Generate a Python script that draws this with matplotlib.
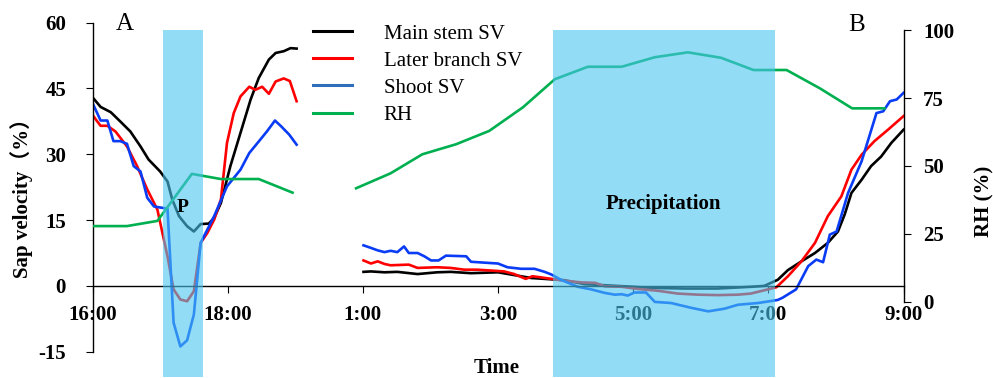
import matplotlib
matplotlib.use("Agg")
import matplotlib.pyplot as plt
import numpy as np
from matplotlib.lines import Line2D
from matplotlib.patches import Rectangle

plt.rcParams['font.family'] = ['Liberation Serif', 'Noto Sans CJK SC']
plt.rcParams['axes.unicode_minus'] = False

# x = hours on the plotted axis (0 = 16:00, 4 = 1:00, 12 = 9:00)
tick_pos = [0, 2, 4, 6, 8, 10, 12]
tick_labels = ["16:00", "18:00", "1:00", "3:00", "5:00", "7:00", "9:00"]

# ---- afternoon segment ----
main_x1 = [0, 0.12, 0.27, 0.41, 0.56, 0.71, 0.83, 1.0, 1.11, 1.18, 1.28, 1.40, 1.50,
           1.60, 1.72, 1.80, 1.90, 2.04, 2.19, 2.34, 2.46, 2.61, 2.71, 2.83, 2.93, 3.02]
main_y1 = [43.0, 40.8, 39.6, 37.5, 35.2, 31.8, 28.8, 26.1, 23.8, 19.7, 15.9, 13.6, 12.4,
           14.1, 14.2, 15.5, 18.9, 27.3, 34.9, 42.5, 47.4, 51.6, 53.1, 53.5, 54.2, 54.1]

branch_x1 = [0, 0.07, 0.12, 0.22, 0.34, 0.51, 0.66, 0.81, 0.96, 1.11, 1.20, 1.30, 1.40, 1.50,
             1.60, 1.70, 1.80, 1.90, 1.99, 2.09, 2.19, 2.32, 2.41, 2.51, 2.61, 2.71, 2.83,
             2.92, 3.02]
branch_y1 = [39.0, 37.5, 36.5, 36.5, 35.2, 31.8, 27.3, 22.0, 17.4, 6.7, -0.8, -3.1, -3.5, -1.2,
             9.8, 12.1, 15.1, 19.7, 32.6, 39.4, 43.2, 45.4, 44.7, 45.4, 43.8, 46.6, 47.3,
             46.7, 42.1]

shoot_x1 = [0, 0.12, 0.22, 0.31, 0.41, 0.51, 0.61, 0.71, 0.81, 0.91, 1.11, 1.20, 1.30, 1.40,
            1.50, 1.60, 1.80, 1.99, 2.19, 2.32, 2.48, 2.58, 2.70, 2.79, 2.91, 3.02]
shoot_y1 = [41.7, 37.7, 37.7, 33.0, 33.0, 32.4, 27.3, 26.1, 20.1, 18.1, 17.6, -8.4, -13.8, -12.4,
            -6.5, 9.8, 15.9, 22.7, 26.5, 30.3, 33.3, 35.2, 37.7, 36.4, 34.5, 32.2]

rh_x1 = [0, 0.51, 0.96, 1.47, 1.90, 2.46, 2.96]
rh_y1 = [27.9, 27.9, 29.8, 47.1, 45.2, 45.2, 40.2]

# ---- night / morning segment ----
main_x2 = [4.01, 4.12, 4.32, 4.51, 4.81, 5.10, 5.30, 5.60, 6.00, 6.19, 6.49, 6.69, 6.98, 7.28,
           7.77, 8.27, 8.76, 9.25, 9.75, 9.94, 10.14, 10.29, 10.49, 10.69, 10.88, 11.03,
           11.13, 11.23, 11.38, 11.52, 11.67, 11.82, 12.0]
main_y2 = [3.2, 3.3, 3.1, 3.2, 2.7, 3.1, 3.2, 2.9, 3.1, 2.6, 1.8, 1.6, 1.3, 0.4,
           0.0, -0.45, -0.6, -0.6, -0.2, 0.0, 1.4, 3.6, 5.6, 7.5, 9.8, 12.4,
           16.3, 21.2, 24.2, 27.3, 29.5, 32.6, 35.6]

branch_x2 = [4.01, 4.12, 4.22, 4.32, 4.41, 4.68, 4.81, 5.10, 5.30, 5.50, 5.69, 5.90, 6.09, 6.24,
             6.41, 6.51, 6.61, 6.79, 6.98, 7.23, 7.44, 7.58, 7.83, 8.07, 8.36, 8.66, 8.96,
             9.25, 9.55, 9.74, 9.94, 10.12, 10.29, 10.49, 10.69, 10.88, 11.08, 11.23, 11.38,
             11.57, 11.77, 12.0]
branch_y2 = [5.8, 5.1, 5.6, 5.0, 4.7, 4.85, 4.1, 4.25, 4.1, 3.7, 3.7, 3.5, 3.3, 2.7,
             1.6, 2.2, 2.0, 1.6, 1.2, 0.8, 0.7, -0.1, -0.2, -0.7, -1.1, -1.75, -2.0,
             -2.1, -2.0, -1.75, -1.0, -0.3, 2.2, 5.6, 9.8, 15.9, 20.4, 26.5, 29.9,
             33.0, 35.6, 38.7]

shoot_x2 = [4.01, 4.12, 4.22, 4.32, 4.41, 4.51, 4.61, 4.68, 4.81, 4.91, 5.01, 5.12, 5.23, 5.53,
            5.60, 6.00, 6.14, 6.34, 6.54, 6.69, 6.79, 6.93, 7.18, 7.38, 7.58, 7.73, 7.83,
            7.92, 8.02, 8.19, 8.32, 8.56, 8.86, 9.11, 9.35, 9.55, 9.85, 10.14, 10.21, 10.41,
            10.59, 10.71, 10.81, 10.91, 11.01, 11.18, 11.38, 11.60, 11.70, 11.80, 11.90, 12.0]
shoot_y2 = [9.25, 8.66, 8.1, 7.7, 8.0, 7.7, 9.0, 7.5, 7.5, 6.75, 5.8, 5.8, 6.9, 6.75,
            5.5, 5.1, 4.25, 3.9, 3.9, 3.2, 2.6, 1.4, -0.2, -0.8, -1.6, -2.0, -1.9,
            -2.2, -1.5, -1.5, -3.65, -3.9, -5.0, -5.8, -5.2, -4.3, -3.9, -3.2, -2.7, -0.8,
            4.5, 6.0, 5.4, 11.7, 12.4, 21.2, 28.4, 39.4, 39.8, 42.1, 42.5, 44.0]

rh_x2 = [3.90, 4.41, 4.88, 5.38, 5.87, 6.37, 6.84, 7.33, 7.83, 8.32, 8.81, 9.30, 9.78,
         10.27, 10.76, 11.24, 11.72]
rh_y2 = [41.8, 47.3, 54.3, 58.0, 62.9, 71.6, 81.9, 86.5, 86.5, 90.0, 91.8, 89.8, 85.3,
         85.3, 78.6, 71.2, 71.2]

# shaded periods (start, end) on x axis
rain_spans = [(1.05, 1.63), (6.82, 10.10)]

C_MAIN = "black"
C_BRANCH = "#ff0000"
C_SHOOT = "#0a3cf5"
C_RH = "#00b050"
C_SHADE = "#49c5f0"

fig = plt.figure(figsize=(9.93, 3.78), dpi=100)
ax = fig.add_axes([92.5 / 993, 26.3 / 378, 811 / 993, 329 / 378])
ax2 = ax.twinx()

lw = 1.9
ax.plot(main_x1, main_y1, color=C_MAIN, lw=lw)
ax.plot(main_x2, main_y2, color=C_MAIN, lw=lw)
ax.plot(branch_x1, branch_y1, color=C_BRANCH, lw=lw)
ax.plot(branch_x2, branch_y2, color=C_BRANCH, lw=lw)
ax.plot(shoot_x1, shoot_y1, color=C_SHOOT, lw=lw)
ax.plot(shoot_x2, shoot_y2, color=C_SHOOT, lw=lw)
ax2.plot(rh_x1, rh_y1, color=C_RH, lw=lw)
ax2.plot(rh_x2, rh_y2, color=C_RH, lw=lw)

ax.set_xlim(0, 12)
ax.set_ylim(-15, 60)
ax2.set_ylim(-18.3, 102.7)

# shading drawn over the lines, reaching below the axes
for x0, x1 in rain_spans:
    ax2.add_patch(Rectangle((x0, -27.6), x1 - x0, 127.6, facecolor=C_SHADE,
                            edgecolor="none", alpha=0.6, zorder=5, clip_on=False))

# spines
ax.spines['top'].set_visible(False)
ax.spines['right'].set_visible(False)
ax.spines['bottom'].set_position(('data', 0))
ax2.spines['top'].set_visible(False)
ax2.spines['left'].set_visible(False)
ax2.spines['bottom'].set_visible(False)
ax2.spines['right'].set_bounds(0, 100)
for sp in list(ax.spines.values()) + list(ax2.spines.values()):
    sp.set_linewidth(1.0)

ax.set_xticks(tick_pos)
ax.set_xticklabels(tick_labels)
ax.set_yticks([-15, 0, 15, 30, 45, 60])
ax2.set_yticks([0, 25, 50, 75, 100])
ax.tick_params(axis='x', direction='out', length=5, pad=9, labelsize=15)
ax.tick_params(axis='y', direction='out', length=5, pad=14, labelsize=15)
ax2.tick_params(axis='y', direction='out', length=5, pad=9, labelsize=15)
for lab in ax.get_xticklabels() + ax.get_yticklabels() + ax2.get_yticklabels():
    lab.set_fontweight('bold')

ax.set_ylabel("Sap velocity（%）", fontsize=15, fontweight='bold')
ax.yaxis.set_label_coords(-0.0734, 0.482)
ax2.set_ylabel("RH (%)", fontsize=15, fontweight='bold')
ax2.yaxis.set_label_coords(1.087, 0.458)

fig.text(497 / 993, 1 - 368 / 378, "Time", fontsize=15, fontweight='bold',
         ha='center', va='center')
fig.text(125 / 993, 1 - 24 / 378, "A", fontsize=18, ha='center', va='center')
fig.text(857 / 993, 1 - 25 / 378, "B", fontsize=18, ha='center', va='center')
fig.text(182.5 / 993, 1 - 208 / 378, "P", fontsize=14, fontweight='bold',
         ha='center', va='center', zorder=10)
fig.text(663 / 993, 1 - 204 / 378, "Precipitation", fontsize=15, fontweight='bold',
         ha='center', va='center', zorder=10)

handles = [Line2D([], [], color=C_MAIN, lw=2.2),
           Line2D([], [], color=C_BRANCH, lw=2.2),
           Line2D([], [], color="#2f6eba", lw=2.2),
           Line2D([], [], color=C_RH, lw=2.2)]
fig.legend(handles, ["Main stem SV", "Later branch SV", "Shoot SV", "RH"],
           loc='upper left', bbox_to_anchor=(313 / 993, 1 - 24 / 378),
           frameon=False, fontsize=15, borderpad=0, borderaxespad=0,
           handlelength=1.85, handletextpad=1.55, labelspacing=0.36)

fig.savefig("out.png", dpi=100)
